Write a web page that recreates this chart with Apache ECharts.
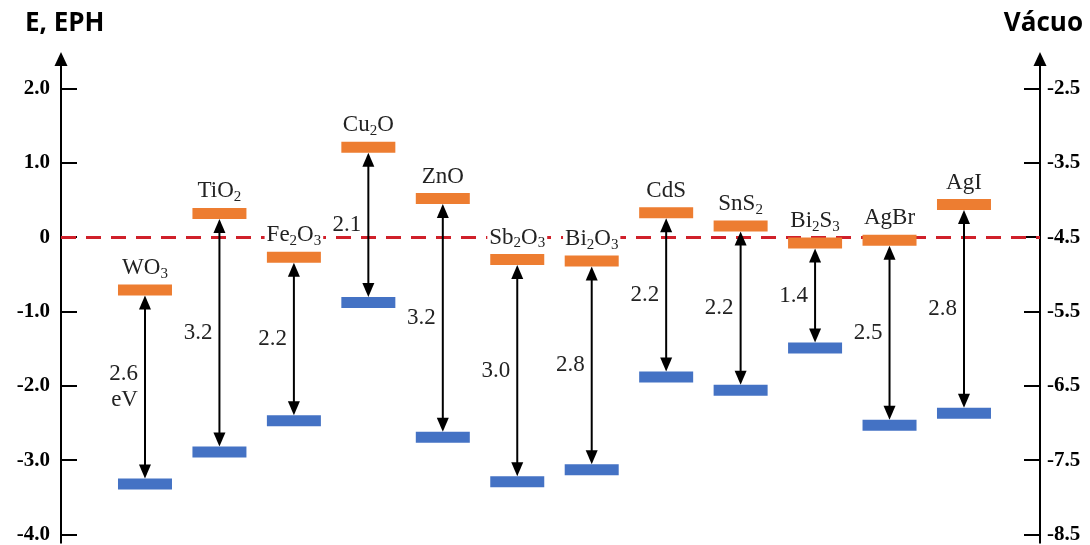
<!DOCTYPE html>
<html>
<head>
<meta charset="utf-8">
<script src="https://cdn.jsdelivr.net/npm/echarts@6/dist/echarts.min.js"></script>
<style>
html,body{margin:0;padding:0;background:#fff;}
#chart{width:1090px;height:545px;}
</style>
</head>
<body>
<div id="chart"></div>
<script>
// ---- data ----
const materials = ['WO3','TiO2','Fe2O3','Cu2O','ZnO','Sb2O3','Bi2O3','CdS','SnS2','Bi2S3','AgBr','AgI'];
const materialLabels = ['{n|WO}{s|3}','{n|TiO}{s|2}','{n|Fe}{s|2}{n|O}{s|3}','{n|Cu}{s|2}{n|O}','{n|ZnO}','{n|Sb}{s|2}{n|O}{s|3}','{n|Bi}{s|2}{n|O}{s|3}','{n|CdS}','{n|SnS}{s|2}','{n|Bi}{s|2}{n|S}{s|3}','{n|AgBr}','{n|AgI}'];
const conductionBand = [-0.71, 0.32, -0.27, 1.21, 0.52, -0.30, -0.32, 0.33, 0.15, -0.08, -0.04, 0.44];
const valenceBand    = [-3.32, -2.89, -2.47, -0.88, -2.69, -3.29, -3.13, -1.88, -2.06, -1.49, -2.53, -2.37];
const gapLabels = ['2.6\neV','3.2','2.2','2.1','3.2','3.0','2.8','2.2','2.2','1.4','2.5','2.8'];
const leftTicks = [-4, -3, -2, -1, 0, 1, 2];
const rightTicks = [-8.5, -7.5, -6.5, -5.5, -4.5, -3.5, -2.5];
const vacuumOffset = -4.5;

const chart = echarts.init(document.getElementById('chart'), null, {renderer:'canvas'});

const yMin = -4.111, yMax = 2.397;
const serif = 'Liberation Serif';

function renderItem(params, api) {
  const i = api.value(0);
  const pc = api.coord([i, api.value(1)]);
  const pv = api.coord([i, api.value(2)]);
  const x = pc[0];
  const bw = 54, bh = 11, ah = 14, aw = 12;
  const topTip = pc[1] + bh / 2;
  const botTip = pv[1] - bh / 2;
  const idx = params.dataIndex;
  return {
    type: 'group',
    children: [
      {type:'line', z2: 5, shape:{x1:x, y1:topTip + ah - 2, x2:x, y2:botTip - ah + 2}, style:{stroke:'#000', lineWidth:2}},
      {type:'polygon', z2: 5, shape:{points:[[x, topTip],[x - aw/2, topTip + ah],[x + aw/2, topTip + ah]]}, style:{fill:'#000'}},
      {type:'polygon', z2: 5, shape:{points:[[x, botTip],[x - aw/2, botTip - ah],[x + aw/2, botTip - ah]]}, style:{fill:'#000'}},
      {type:'rect', z2: 6, shape:{x:x - bw/2, y:pc[1] - bh/2, width:bw, height:bh}, style:{fill:'#ED7D31'}},
      {type:'rect', z2: 6, shape:{x:x - bw/2, y:pv[1] - bh/2, width:bw, height:bh}, style:{fill:'#4472C4'}},
      {type:'text', z2: 7, x: x, y: pc[1] - bh/2 - 3, style:{
        text: materialLabels[idx], align:'center', verticalAlign:'bottom',
        backgroundColor:'#fff', padding:[0,2,0,2],
        fill:'#222',
        rich:{
          n:{fontFamily:serif, fontSize:23, lineHeight:27, verticalAlign:'middle', fill:'#222'},
          s:{fontFamily:serif, fontSize:15, lineHeight:15, verticalAlign:'bottom', fill:'#222'}
        }
      }},
      {type:'text', z2: 7, x: x - 7, y: (pc[1] + pv[1]) / 2, style:{
        text: gapLabels[idx], align:'right', verticalAlign:'middle',
        fontFamily:serif, fontSize:23, lineHeight:26, fill:'#222'
      }}
    ]
  };
}

const option = {
  animation: false,
  backgroundColor: '#fff',
  grid: {left: 61, right: 50, top: 59, bottom: 0, containLabel: false},
  graphic: [
    {type:'text', left: 25, top: 11, style:{text:'E, EPH', fontFamily:'Open Sans', fontWeight:'bold', fontSize:26, fill:'#000'}},
    {type:'text', right: 7, top: 11, style:{text:'Vácuo', fontFamily:'Open Sans', fontWeight:'bold', fontSize:26, fill:'#000'}}
  ],
  xAxis: {type:'value', min:-1.128, max:12.021, show:false},
  yAxis: [
    {
      type:'value', position:'left', min:yMin, max:yMax,
      axisLine:{show:true, onZero:false, lineStyle:{color:'#000', width:2}, symbol:['none','triangle'], symbolSize:[13,14]},
      axisTick:{show:true, inside:true, length:16, lineStyle:{color:'#000', width:2}, customValues: leftTicks},
      axisLabel:{customValues: leftTicks, margin: 11, color:'#000', fontFamily:serif, fontWeight:'bold', fontSize:21,
        formatter: v => (Math.abs(v) < 1e-9 ? '0' : v.toFixed(1))},
      splitLine:{show:false}
    },
    {
      type:'value', position:'right', min:yMin + vacuumOffset, max:yMax + vacuumOffset,
      axisLine:{show:true, onZero:false, lineStyle:{color:'#000', width:2}, symbol:['none','triangle'], symbolSize:[13,14]},
      axisTick:{show:true, inside:true, length:16, lineStyle:{color:'#000', width:2}, customValues: rightTicks},
      axisLabel:{customValues: rightTicks, margin: 7, color:'#000', fontFamily:serif, fontWeight:'bold', fontSize:21,
        formatter: v => v.toFixed(1)},
      splitLine:{show:false}
    }
  ],
  series: [
    {
      type:'line', data:[], z:1, silent:true,
      markLine:{symbol:['none','none'], silent:true, animation:false, z:1,
        label:{show:false},
        lineStyle:{color:'#D0202A', type:[15,10], width:3},
        data:[{yAxis:0}]}
    },
    {
      type:'custom', z:3, renderItem: renderItem, clip:false,
      encode:{x:0, y:[1,2]},
      data: materials.map((m, i) => [i, conductionBand[i], valenceBand[i]])
    }
  ]
};
chart.setOption(option);
</script>
</body>
</html>
